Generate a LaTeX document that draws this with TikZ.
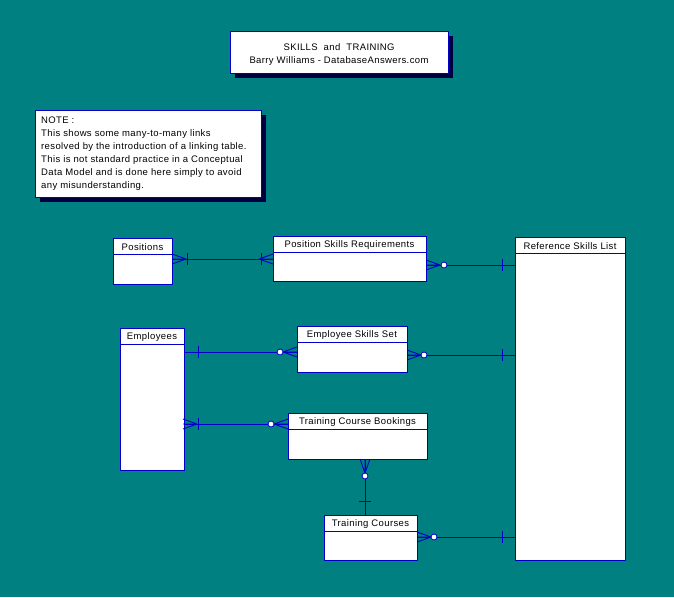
\documentclass[tikz,border=0pt]{standalone}
\usepackage{fontspec}
\setmainfont{Liberation Sans}[LetterSpace=4]
\usetikzlibrary{shadows}
\definecolor{bg}{RGB}{0,128,128}
\definecolor{erblue}{RGB}{0,0,200}
\definecolor{shadowc}{RGB}{0,0,64}
\newcommand\entity[6]{%
  \node[ebox, minimum width=#4pt, minimum height=#5pt] (#1) at (#2,#3) {};
  \draw[erblue, line width=1pt] ([yshift=-16pt]#1.north west) -- ([yshift=-16pt]#1.north east);
  \node[etext] (#1-t) at ([yshift=-9pt]#1.north) {#6};}
\begin{document}
\begin{tikzpicture}[x=1pt,y=-1pt,
  rel/.style={draw=erblue, line width=0.9pt},
  ebox/.style={draw=erblue, fill=white, line width=1pt, inner sep=0pt, outer sep=0pt, anchor=north west},
  etext/.style={font=\fontsize{9.5}{12.5}\selectfont, inner sep=0pt, text=black},
  shbox/.style={draw=erblue, fill=white, line width=1pt, inner sep=0pt, outer sep=0pt, anchor=north west,
     general shadow={fill=shadowc, shadow xshift=5pt, shadow yshift=-5pt}},
  dot/.style={draw=erblue, fill=white, line width=0.8pt},
  crow/.pic={\draw[rel] (0,0)--(14,-5) (0,0)--(14,0) (0,0)--(14,5);}]
\fill[bg] (0,0) rectangle (674,597);
\useasboundingbox (0,0) rectangle (674,597);

% title
\node[shbox, minimum width=218pt, minimum height=42pt] (title) at (230,31) {};
\node[etext, align=center, font=\fontsize{9.5}{13.2}\selectfont] (title-t) at ([yshift=-2.5pt]title.center) {SKILLS\ \ and\ \ TRAINING\\Barry Williams - DatabaseAnswers.com};

% note
\node[shbox, minimum width=226pt, minimum height=87pt] (note) at (35,110) {};
\node[etext, align=left, anchor=north west, font=\fontsize{9.5}{12.9}\selectfont] (note-t) at ([shift={(6,7)}]note.north west)
 {NOTE :\\This shows some many-to-many links\\resolved by the introduction of a linking table.\\This is not standard practice in a Conceptual\\Data Model and is done here simply to avoid\\any misunderstanding.};

% entities
\entity{pos}{113}{238}{59}{46}{Positions}
\entity{psr}{273}{236}{153}{45}{Position Skills Requirements}
\entity{rsl}{515}{237}{110}{323}{Reference Skills List}
\entity{emp}{120}{328}{64}{142}{Employees}
\entity{ess}{297}{326}{110}{46}{Employee Skills Set}
\entity{tcb}{288}{413}{139}{46}{Training Course Bookings}
\entity{tc}{324}{515}{93}{45}{Training Courses}

% Positions -- PSR
\draw[rel] (pos.east |- 0,259) -- (psr.west |- 0,259);
\pic[rotate=180] at (186,259) {crow};
\draw[rel] (187,253) -- (187,265);
\pic at (259,259) {crow};
\draw[rel] (261,253) -- (261,265);

% PSR -- RSL
\draw[rel] (psr.east |- 0,265) -- (rsl.west |- 0,265);
\pic[rotate=180] at (440,265) {crow};
\draw[dot] (444,265) circle[radius=3];
\draw[rel] (502,259) -- (502,271);

% Employees -- ESS
\draw[rel] (emp.east |- 0,352) -- (ess.west |- 0,352);
\draw[rel] (198,346) -- (198,358);
\pic at (283,352) {crow};
\draw[dot] (280,352) circle[radius=3];

% ESS -- RSL
\draw[rel] (ess.east |- 0,355) -- (rsl.west |- 0,355);
\pic[rotate=180] at (421,355) {crow};
\draw[dot] (424,355) circle[radius=3];
\draw[rel] (502,349) -- (502,361);

% Employees -- TCB
\draw[rel] (emp.east |- 0,424) -- (tcb.west |- 0,424);
\pic[rotate=180] at (197,424) {crow};
\draw[rel] (198,418) -- (198,430);
\pic at (274,424) {crow};
\draw[dot] (271,424) circle[radius=3];

% TCB -- TC
\draw[rel] (tcb.south -| 365,0) -- (tc.north -| 365,0);
\pic[rotate=90] at (365,473) {crow};
\draw[dot] (365,476) circle[radius=3];
\draw[rel] (359,501) -- (371,501);

% TC -- RSL
\draw[rel] (tc.east |- 0,537) -- (rsl.west |- 0,537);
\pic[rotate=180] at (431,537) {crow};
\draw[dot] (434,537) circle[radius=3];
\draw[rel] (502,531) -- (502,543);
\end{tikzpicture}
\end{document}
